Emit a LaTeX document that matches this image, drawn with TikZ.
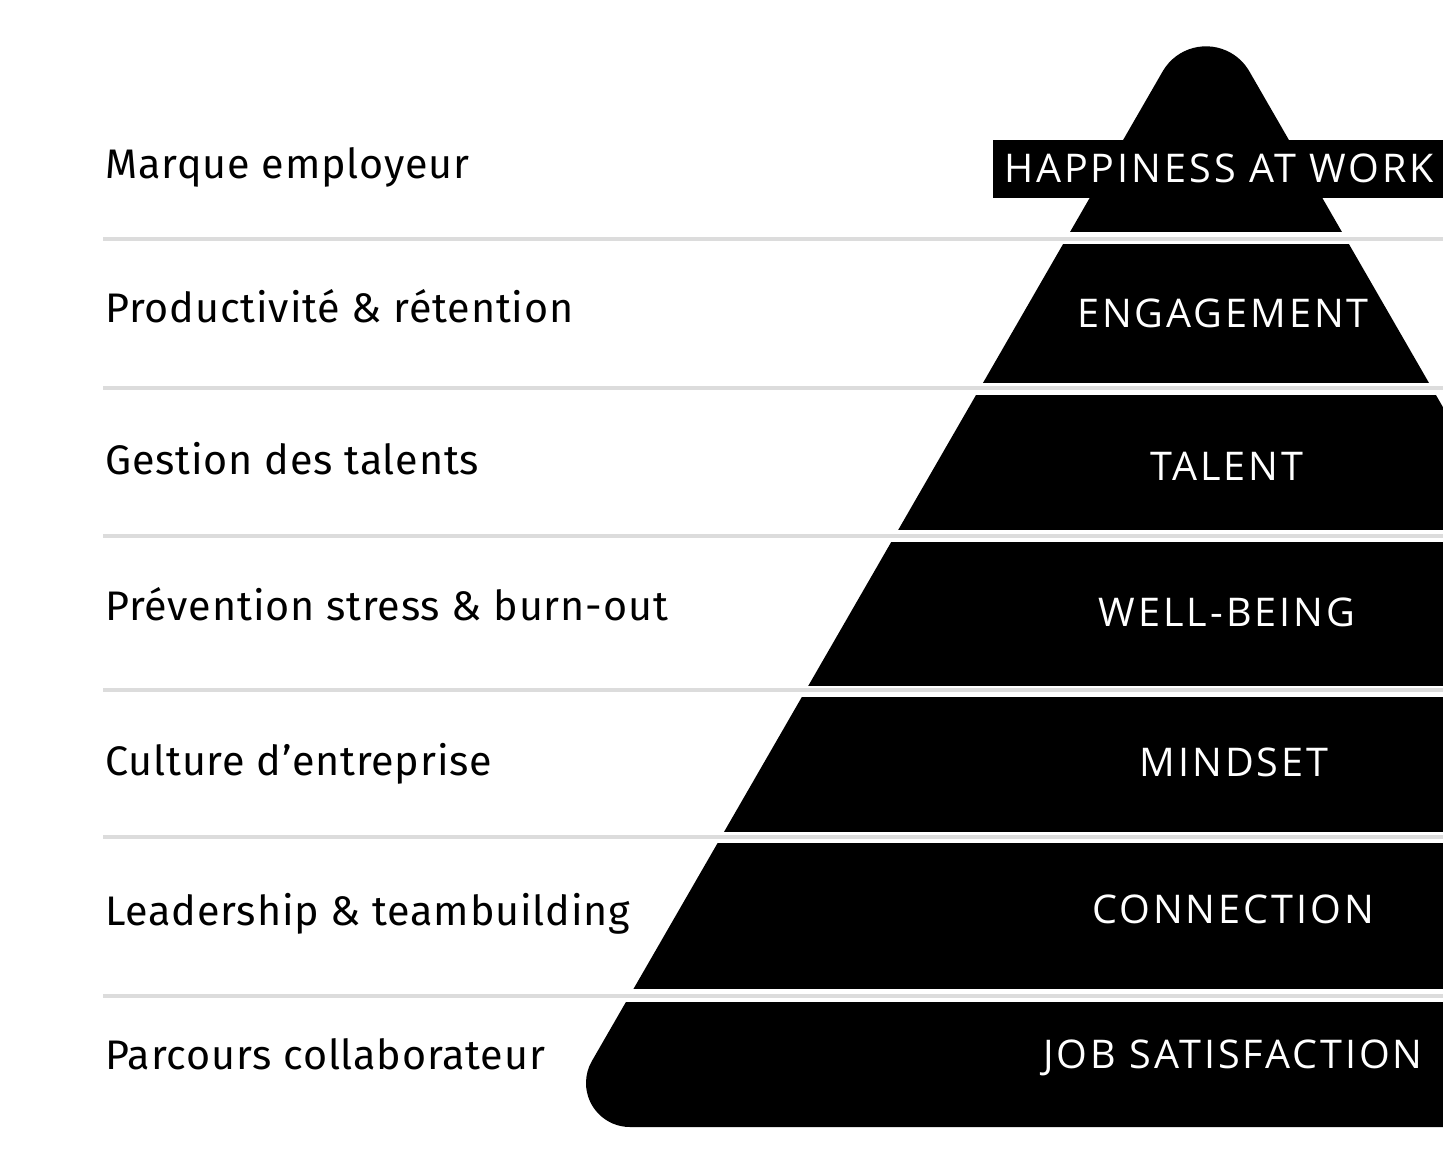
\documentclass[tikz,border=0pt]{standalone}
\usepackage{fontspec}
\setmainfont{Fira Sans}[LetterSpace=2]
\newfontfamily\tierfont[LetterSpace=7.5]{Open Sans}
\definecolor{gapgrey}{HTML}{DCDCDC}
\tikzset{
  lefttxt/.style={anchor=base west, inner sep=0pt, font=\fontsize{23.5pt}{28pt}\selectfont},
  tiertxt/.style={anchor=base, inner sep=0pt, text=white, font=\tierfont\fontsize{22.5pt}{28pt}\selectfont},
  gapline/.style={draw=gapgrey, line width=0.08cm}
}
\begin{document}
\begin{tikzpicture}[x=0.02cm,y=-0.02cm]
	\useasboundingbox (0,0) rectangle (1443,1164);
	
	% Pyramid body
	\begin{scope}
		\clip (0,0) rectangle (1443,1164);
		\fill (1162.7,71.3) arc[start angle=210, end angle=330, radius=50]
			-- (1858,1127) -- (630,1127)
			arc[start angle=90, end angle=210, radius=44] -- cycle;
		% Gaps between tiers
		\foreach \ya/\yb in {232/244,383/395,530/542,686/697,832/843,989/1002} {
			\fill[white] (0,\ya) rectangle (1443,\yb);
		}
	\end{scope}
	
	% Grey rules
	\foreach \y in {239,388,536,690,837,996} {
		\draw[gapline] (103,\y) -- (1443,\y);
	}
	
	% Left labels
	\node[lefttxt] (marque) at (105,178) {Marque employeur};
	\node[lefttxt] (produc) at (105,322) {Productivité \& rétention};
	\node[lefttxt] (gestion) at (105,474) {Gestion des talents};
	\node[lefttxt] (prevent) at (105,620) {Prévention stress \& burn-out};
	\node[lefttxt] (culture) at (105,775) {Culture d’entreprise};
	\node[lefttxt] (leader) at (105,925) {Leadership \& teambuilding};
	\node[lefttxt] (parcours) at (105,1069) {Parcours collaborateur};
	
	% Tier labels
	\fill (993,140) rectangle (1443,198);
	\node[tiertxt] (happy) at (1219,182) {HAPPINESS AT WORK};
	\node[tiertxt] (engage) at (1223,327) {ENGAGEMENT};
	\node[tiertxt] (talent) at (1227,480) {TALENT};
	\node[tiertxt] (wellb) at (1227,626) {WELL-BEING};
	\node[tiertxt] (mindset) at (1234,776) {MINDSET};
	\node[tiertxt] (connect) at (1233,923) {CONNECTION};
	\node[tiertxt] (jobsat) at (1233,1068) {JOB SATISFACTION};
\end{tikzpicture}
\end{document}
